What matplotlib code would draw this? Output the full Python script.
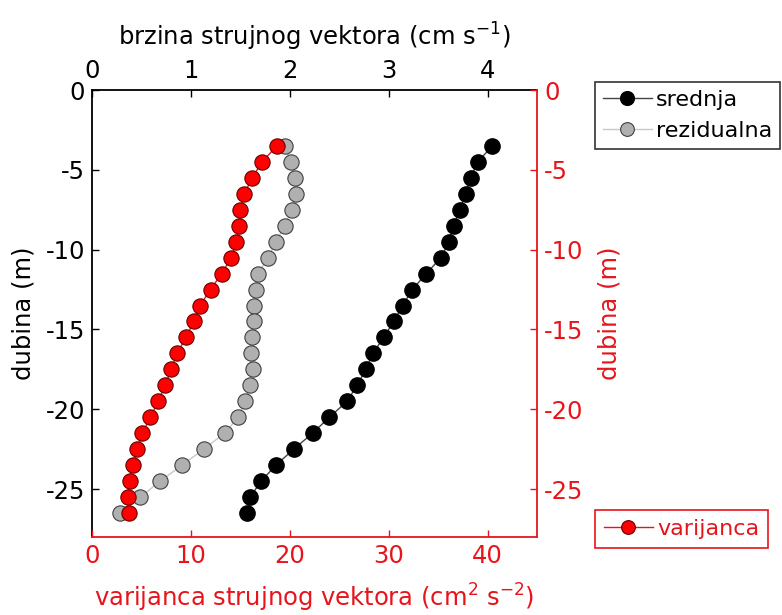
import numpy as np
import matplotlib
matplotlib.use("Agg")
import matplotlib.pyplot as plt

plt.rcParams['font.family'] = ['DejaVu Sans']
plt.rcParams['axes.unicode_minus'] = False
plt.rcParams['font.size'] = 17.5

# depth of each bin (m)
dubina = [-3.5, -4.5, -5.5, -6.5, -7.5, -8.5, -9.5, -10.5, -11.5, -12.5, -13.5, -14.5,
          -15.5, -16.5, -17.5, -18.5, -19.5, -20.5, -21.5, -22.5, -23.5, -24.5, -25.5, -26.5]

# mean current speed (cm/s)
srednja = [4.05, 3.90, 3.83, 3.78, 3.72, 3.66, 3.61, 3.53, 3.38, 3.24, 3.14, 3.05,
           2.95, 2.84, 2.77, 2.68, 2.58, 2.40, 2.23, 2.04, 1.86, 1.71, 1.60, 1.57]

# residual current speed (cm/s)
rezidualna = [1.95, 2.01, 2.05, 2.06, 2.02, 1.95, 1.86, 1.78, 1.68, 1.66, 1.64, 1.64,
              1.62, 1.61, 1.63, 1.60, 1.55, 1.48, 1.34, 1.13, 0.91, 0.69, 0.49, 0.28]

# current vector variance (cm^2/s^2)
varijanca = [18.7, 17.2, 16.2, 15.4, 15.0, 14.9, 14.6, 14.1, 13.1, 12.0, 10.9, 10.3,
             9.5, 8.6, 8.0, 7.4, 6.7, 5.9, 5.1, 4.6, 4.1, 3.8, 3.6, 3.7]

red = '#e8141c'

fig = plt.figure(figsize=(7.82, 6.15), dpi=100)
pos = [92 / 782, 78 / 615, 445 / 782, 447 / 615]

# speed axis: x on top, depth on the left
ax = fig.add_axes(pos)
l1, = ax.plot(srednja, dubina, '-o', color='#444444', lw=1, ms=11,
              mfc='black', mec='black', label='srednja')
l2, = ax.plot(rezidualna, dubina, '-o', color='#c8c8c8', lw=1, ms=11,
              mfc='#b0b0b0', mec='#404040', mew=0.8, label='rezidualna')
ax.set_xlim(0, 4.5)
ax.set_ylim(-28, 0)
ax.set_xticks([0, 1, 2, 3, 4])
ax.set_yticks([0, -5, -10, -15, -20, -25])
ax.xaxis.tick_top()
ax.xaxis.set_label_position('top')
ax.set_xlabel('brzina strujnog vektora (cm s$^{-1}$)', labelpad=10)
ax.set_ylabel('dubina (m)', labelpad=7)
ax.tick_params(direction='in', length=5, width=1, pad=5)
ax.spines['bottom'].set_visible(False)
ax.spines['right'].set_visible(False)
for s in ['top', 'left']:
    ax.spines[s].set_linewidth(1.3)

# variance axis: x on the bottom, depth on the right
ax2 = fig.add_axes(pos, facecolor='none')
l3, = ax2.plot(varijanca, dubina, '-o', color=red, lw=1, ms=11,
               mfc='#ff0000', mec='#6a0000', mew=0.8, label='varijanca')
ax2.set_xlim(0, 45)
ax2.set_ylim(-28, 0)
ax2.set_xticks([0, 10, 20, 30, 40])
ax2.set_yticks([0, -5, -10, -15, -20, -25])
ax2.yaxis.tick_right()
ax2.yaxis.set_label_position('right')
ax2.set_xlabel('varijanca strujnog vektora (cm$^2$ s$^{-2}$)', color=red, labelpad=10)
ax2.set_ylabel('dubina (m)', color=red, labelpad=10)
ax2.tick_params(direction='in', length=5, width=1, colors=red, pad=5)
ax2.spines['top'].set_visible(False)
ax2.spines['left'].set_visible(False)
for s in ['bottom', 'right']:
    ax2.spines[s].set_color(red)
    ax2.spines[s].set_linewidth(1.3)

leg1 = fig.legend(handles=[l1, l2], loc='upper left',
                  bbox_to_anchor=(595 / 782, 1 - 82 / 615), fontsize=16,
                  fancybox=False, framealpha=1, edgecolor='#333333',
                  handlelength=2.2, handletextpad=0.2, borderpad=0.35,
                  labelspacing=0.5, borderaxespad=0, markerscale=0.9)
leg1.get_frame().set_linewidth(1.2)

leg2 = fig.legend(handles=[l3], loc='upper left',
                  bbox_to_anchor=(595 / 782, 1 - 510 / 615), fontsize=16,
                  fancybox=False, framealpha=1, edgecolor=red,
                  handlelength=2.2, handletextpad=0.2, borderpad=0.4,
                  borderaxespad=0, markerscale=0.9)
leg2.get_frame().set_linewidth(1.2)
for t in leg2.get_texts():
    t.set_color(red)

fig.savefig('out.png', dpi=100)
